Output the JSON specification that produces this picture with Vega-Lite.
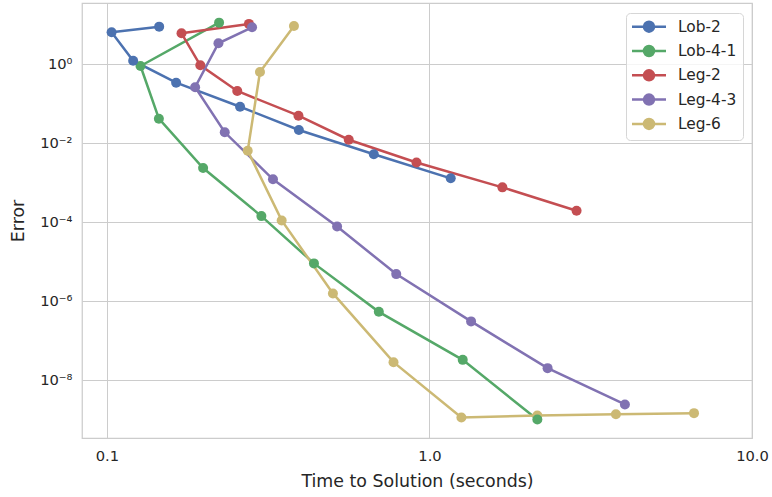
{
  "$schema": "https://vega.github.io/schema/vega-lite/v6.json",
  "width": 670,
  "height": 435,
  "autosize": "none",
  "padding": {"left": 82, "top": 3, "right": 20, "bottom": 59},
  "background": "white",
  "config": {
    "font": "DejaVu Sans",
    "view": {"stroke": "#cccccc", "strokeWidth": 1.25},
    "axis": {
      "domain": false,
      "ticks": false,
      "grid": true,
      "gridColor": "#cccccc",
      "gridWidth": 1,
      "labelColor": "#262626",
      "titleColor": "#262626",
      "labelFontSize": 14.7,
      "titleFontSize": 17.4,
      "titleFontWeight": "normal",
      "labelFont": "DejaVu Sans",
      "titleFont": "DejaVu Sans"
    },
    "legend": {
      "labelFont": "DejaVu Sans",
      "labelFontSize": 15.4,
      "labelColor": "#262626"
    }
  },
  "data": {
    "values": [
      {"s": "Lob-2", "i": 1, "t": 0.1452, "e": 8.95},
      {"s": "Lob-2", "i": 2, "t": 0.1034, "e": 6.46},
      {"s": "Lob-2", "i": 3, "t": 0.1206, "e": 1.233},
      {"s": "Lob-2", "i": 4, "t": 0.1639, "e": 0.342},
      {"s": "Lob-2", "i": 5, "t": 0.2587, "e": 0.0844},
      {"s": "Lob-2", "i": 6, "t": 0.3936, "e": 0.02172},
      {"s": "Lob-2", "i": 7, "t": 0.6722, "e": 0.0053},
      {"s": "Lob-2", "i": 8, "t": 1.164, "e": 0.0013},
      {"s": "Lob-4-1", "i": 1, "t": 0.2227, "e": 11.3},
      {"s": "Lob-4-1", "i": 2, "t": 0.1271, "e": 0.906},
      {"s": "Lob-4-1", "i": 3, "t": 0.1449, "e": 0.042},
      {"s": "Lob-4-1", "i": 4, "t": 0.1987, "e": 0.00237},
      {"s": "Lob-4-1", "i": 5, "t": 0.3012, "e": 0.000144},
      {"s": "Lob-4-1", "i": 6, "t": 0.4384, "e": 9.16e-6},
      {"s": "Lob-4-1", "i": 7, "t": 0.6967, "e": 5.45e-7},
      {"s": "Lob-4-1", "i": 8, "t": 1.268, "e": 3.32e-8},
      {"s": "Lob-4-1", "i": 9, "t": 2.16, "e": 1.03e-9},
      {"s": "Leg-2", "i": 1, "t": 0.2756, "e": 10.5},
      {"s": "Leg-2", "i": 2, "t": 0.1703, "e": 6.09},
      {"s": "Leg-2", "i": 3, "t": 0.1948, "e": 0.943},
      {"s": "Leg-2", "i": 4, "t": 0.2536, "e": 0.211},
      {"s": "Leg-2", "i": 5, "t": 0.3925, "e": 0.05},
      {"s": "Leg-2", "i": 6, "t": 0.562, "e": 0.01233},
      {"s": "Leg-2", "i": 7, "t": 0.9116, "e": 0.00327},
      {"s": "Leg-2", "i": 8, "t": 1.683, "e": 0.000769},
      {"s": "Leg-2", "i": 9, "t": 2.858, "e": 0.000197},
      {"s": "Leg-4-3", "i": 1, "t": 0.2818, "e": 8.64},
      {"s": "Leg-4-3", "i": 2, "t": 0.2217, "e": 3.4},
      {"s": "Leg-4-3", "i": 3, "t": 0.1877, "e": 0.262},
      {"s": "Leg-4-3", "i": 4, "t": 0.2319, "e": 0.019},
      {"s": "Leg-4-3", "i": 5, "t": 0.3272, "e": 0.001227},
      {"s": "Leg-4-3", "i": 6, "t": 0.5172, "e": 7.87e-5},
      {"s": "Leg-4-3", "i": 7, "t": 0.7888, "e": 4.91e-6},
      {"s": "Leg-4-3", "i": 8, "t": 1.346, "e": 3.12e-7},
      {"s": "Leg-4-3", "i": 9, "t": 2.324, "e": 2.05e-8},
      {"s": "Leg-4-3", "i": 10, "t": 4.036, "e": 2.47e-9},
      {"s": "Leg-6", "i": 1, "t": 0.3801, "e": 9.33},
      {"s": "Leg-6", "i": 2, "t": 0.2982, "e": 0.638},
      {"s": "Leg-6", "i": 3, "t": 0.2732, "e": 0.0065},
      {"s": "Leg-6", "i": 4, "t": 0.3482, "e": 0.000112},
      {"s": "Leg-6", "i": 5, "t": 0.502, "e": 1.59e-6},
      {"s": "Leg-6", "i": 6, "t": 0.7737, "e": 2.9e-8},
      {"s": "Leg-6", "i": 7, "t": 1.256, "e": 1.16e-9},
      {"s": "Leg-6", "i": 8, "t": 2.16, "e": 1.3e-9},
      {"s": "Leg-6", "i": 9, "t": 3.785, "e": 1.4e-9},
      {"s": "Leg-6", "i": 10, "t": 6.61, "e": 1.49e-9}
    ]
  },
  "mark": {"type": "line", "strokeWidth": 2.5, "point": {"filled": true, "size": 100, "opacity": 1}},
  "encoding": {
    "x": {
      "field": "t",
      "type": "quantitative",
      "scale": {"type": "log", "domain": [0.0837, 10], "nice": false},
      "axis": {
        "title": "Time to Solution (seconds)",
        "values": [0.1, 1, 10],
        "labelExpr": "datum.value < 0.5 ? '0.1' : datum.value < 5 ? '1.0' : '10.0'",
        "labelPadding": 10,
        "titlePadding": 10,
        "labelFlush": false
      }
    },
    "y": {
      "field": "e",
      "type": "quantitative",
      "scale": {"type": "log", "domain": [3.5e-10, 35.5], "nice": false},
      "axis": {
        "title": "Error",
        "values": [1, 0.01, 0.0001, 0.000001, 0.00000001],
        "labelExpr": "datum.value >= 0.5 ? '10⁰' : datum.value >= 0.005 ? '10⁻²' : datum.value >= 0.00005 ? '10⁻⁴' : datum.value >= 0.0000005 ? '10⁻⁶' : '10⁻⁸'",
        "labelPadding": 10,
        "titlePadding": 12,
        "labelFlush": false
      }
    },
    "color": {
      "field": "s",
      "type": "nominal",
      "scale": {
        "domain": ["Lob-2", "Lob-4-1", "Leg-2", "Leg-4-3", "Leg-6"],
        "range": ["#4C72B0", "#55A868", "#C44E52", "#8172B2", "#CCB974"]
      },
      "legend": {
        "title": null,
        "orient": "top-right",
        "offset": 9.5,
        "symbolType": "M -3.4 0 L 3.4 0 M -1 0 A 1 1 0 1 0 1 0 A 1 1 0 1 0 -1 0 Z",
        "symbolSize": 100,
        "symbolStrokeWidth": 2.5,
        "symbolOpacity": 1,
        "symbolOffset": 9.3,
        "labelOffset": 21.3,
        "rowPadding": 3.3,
        "padding": 6,
        "strokeColor": "#d6d6d6",
        "fillColor": "rgba(255,255,255,0.8)",
        "cornerRadius": 4
      }
    },
    "order": {"field": "i", "type": "quantitative"}
  }
}
